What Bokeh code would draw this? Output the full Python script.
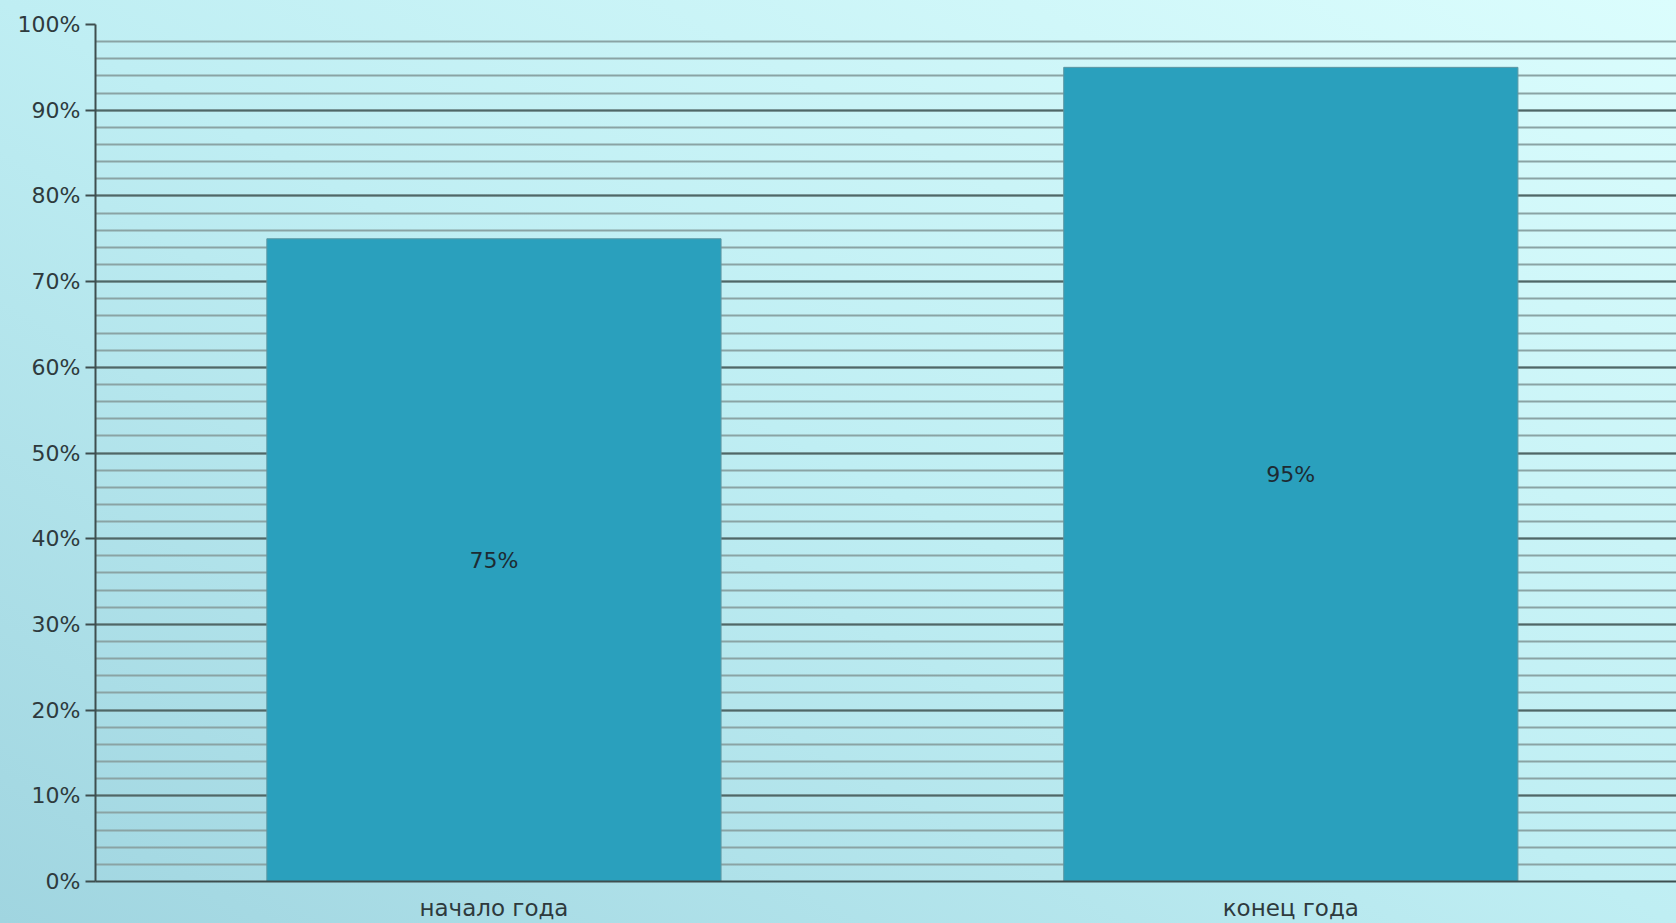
from bokeh.plotting import figure
from bokeh.models import ColumnDataSource, Range1d, SingleIntervalTicker, FixedTicker
from bokeh.core.properties import value
from bokeh.embed import file_html
from bokeh.resources import INLINE

categories = ["начало года", "конец года"]
values = [75, 95]
bar_labels = ["75%", "95%"]
y_ticks = [0, 10, 20, 30, 40, 50, 60, 70, 80, 90, 100]
y_tick_labels = ["0%", "10%", "20%", "30%", "40%", "50%", "60%", "70%", "80%", "90%", "100%"]

FONT = "DejaVu Sans"

x_pos = [i + 0.5 for i in range(len(categories))]

src = ColumnDataSource(dict(
    x=x_pos,
    val=values,
    mid=[v / 2 for v in values],
    lab=bar_labels,
))

p = figure(
    width=1676, height=923,
    # the plot area runs slightly past the right edge of the picture
    x_range=Range1d(0, 1.984),
    y_range=Range1d(0, 100),
    output_backend="svg", toolbar_location=None,
    min_border_left=95, min_border_right=0, min_border_top=24, min_border_bottom=42,
)
p.border_fill_color = None
p.background_fill_color = None
p.outline_line_color = None
p.styles = {"background": "linear-gradient(to top right, #a0d5e0 0%, #bfeef3 50%, #dbfdfd 100%)"}

# grid
p.xgrid.grid_line_color = None
p.ygrid.ticker = SingleIntervalTicker(interval=10, num_minor_ticks=5)
p.ygrid.grid_line_color = "#4f6767"
p.ygrid.grid_line_width = 2
p.ygrid.minor_grid_line_color = "#8aa3a4"
p.ygrid.minor_grid_line_width = 2

p.vbar(x="x", top="val", width=0.57, source=src,
       fill_color="#2aa0bd", line_color="#5d97a3", line_width=1)

p.text(x="x", y="mid", text="lab", source=src,
       text_align="center", text_baseline="middle",
       text_font=value(FONT), text_font_size="22px", text_color="#1d2b33")

# y axis
p.yaxis.ticker = y_ticks
p.yaxis.major_label_overrides = dict(zip(y_ticks, y_tick_labels))
p.yaxis.axis_line_color = "#3e4e4f"
p.yaxis.axis_line_width = 2
p.yaxis.major_tick_line_color = "#3e4e4f"
p.yaxis.major_tick_line_width = 2
p.yaxis.major_tick_out = 10
p.yaxis.major_tick_in = 0
p.yaxis.minor_tick_line_color = None
p.yaxis.major_label_standoff = 5
p.yaxis.major_label_text_font = FONT
p.yaxis.major_label_text_font_size = "22px"
p.yaxis.major_label_text_color = "#2e3a3d"

# x axis
p.xaxis.ticker = FixedTicker(ticks=x_pos)
p.xaxis.major_label_overrides = dict(zip(x_pos, categories))
p.xaxis.axis_line_color = "#3e4e4f"
p.xaxis.axis_line_width = 2
p.xaxis.major_tick_line_color = None
p.xaxis.minor_tick_line_color = None
p.xaxis.major_label_text_font = FONT
p.xaxis.major_label_text_font_size = "23px"
p.xaxis.major_label_text_color = "#2e3a3d"
p.xaxis.major_label_standoff = 7

open("out.html", "w").write(file_html(p, INLINE))
